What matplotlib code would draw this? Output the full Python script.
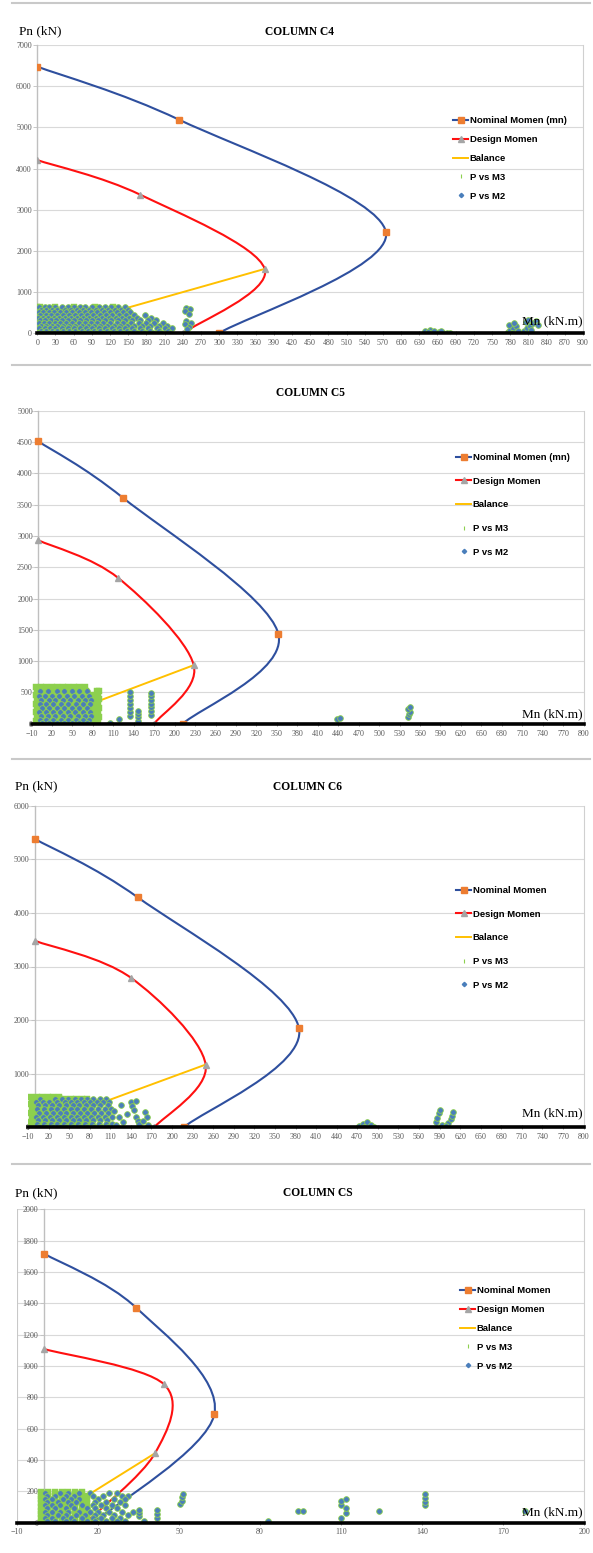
"""Four P-M interaction charts (columns C4, C5, C6, CS) stacked in one tall image."""
import numpy as np
import matplotlib
matplotlib.use("Agg")
import matplotlib.pyplot as plt
from matplotlib.path import Path
from matplotlib.patches import PathPatch
from matplotlib.lines import Line2D

W, H = 593, 1553

# ---------------- data ----------------
# COLUMN C4
c4_nom_m = [0, 234, 575, 299]
c4_nom_p = [6475, 5185, 2455, 0]
c4_des_m = [0, 169, 375, 240]
c4_des_p = [4205, 3370, 1563, 0]
c4_bal_m = [0, 375]
c4_bal_p = [0, 1563]
c4_m3_rows = [
    (630, [0, 4, 30, 60, 95, 125]),
    (540, [0, 2]),
    (430, [0, 2]),
    (320, [0, 2]),
    (210, [0, 2, 150]),
    (100, [0, 2, 140]),
    (15, [0, 3, 60, 120, 180]),
]
c4_m2_rows = [
    (635, [3, 12, 20, 29, 41, 50, 61, 70, 79, 90, 101, 112, 122, 133, 144]),
    (575, [6, 15, 24, 33, 45, 55, 66, 75, 85, 96, 106, 117, 128, 138, 150]),
    (510, [2, 10, 19, 28, 38, 48, 58, 68, 78, 88, 99, 110, 120, 131, 142, 153]),
    (445, [5, 14, 23, 32, 42, 52, 62, 72, 82, 92, 103, 113, 124, 135, 146, 160, 178]),
    (380, [1, 9, 18, 27, 36, 46, 56, 66, 76, 86, 96, 107, 118, 129, 140, 151, 165, 188]),
    (315, [4, 13, 22, 31, 40, 50, 60, 70, 80, 90, 100, 111, 122, 133, 144, 156, 170, 182, 196]),
    (250, [2, 11, 20, 29, 38, 48, 58, 68, 78, 88, 98, 109, 120, 131, 142, 154, 167, 179, 193, 208]),
    (185, [6, 15, 24, 33, 43, 53, 63, 73, 83, 93, 104, 115, 126, 137, 148, 160, 172, 186, 200, 214]),
    (120, [3, 12, 21, 30, 40, 50, 60, 70, 80, 90, 101, 112, 123, 134, 145, 157, 169, 183, 197, 210, 222]),
    (60, [6, 15, 24, 33, 43, 53, 63, 73, 83, 93, 104, 115, 126, 137, 148, 160, 172, 186, 200, 215]),
    (12, [1, 10, 19, 28, 37, 47, 57, 67, 77, 87, 97, 108, 119, 130, 141, 152, 164, 176, 190, 204, 219]),
]
c4_m2_extra_m = [245, 252, 243, 250, 246, 253, 244, 250, 247, 640, 648, 655, 645, 662, 668, 675,
                 680, 665, 776, 780, 785, 790, 778, 786, 792, 783, 802, 808, 812, 818, 822, 806,
                 815, 810, 825]
c4_m2_extra_p = [620, 590, 540, 480, 300, 260, 220, 150, 100, 60, 70, 55, 40, 40, 20, 10,
                 5, 55, 30, 80, 130, 180, 210, 240, 60, 10, 60, 120, 180, 240, 300, 270,
                 90, 330, 200]

# COLUMN C5
c5_nom_m = [0, 124, 352, 212]
c5_nom_p = [4510, 3610, 1440, 0]
c5_des_m = [0, 117, 228, 170]
c5_des_p = [2930, 2330, 935, 0]
c5_bal_m = [0, 228]
c5_bal_p = [0, 935]
c5_m3_rows = [
    (585, [-3, 4, 12, 20, 28, 36, 44, 52, 60, 68]),
    (530, [-2, 6, 14, 22, 30, 38, 46, 54, 62, 70, 86, 89]),
    (460, [-3, 5, 13, 21, 29, 37, 45, 53, 61, 69, 76, 85, 88]),
    (390, [-2, 6, 14, 22, 30, 38, 46, 54, 62, 70, 77, 86, 89]),
    (320, [-3, 5, 13, 21, 29, 37, 45, 53, 61, 69, 76, 85, 88]),
    (250, [-2, 6, 14, 22, 30, 38, 46, 54, 62, 70, 77, 86, 89]),
    (180, [-3, 5, 13, 21, 29, 37, 45, 53, 61, 69, 76, 85, 88]),
    (110, [-2, 6, 14, 22, 30, 38, 46, 54, 62, 70, 77, 86, 89]),
    (40, [-3, 5, 13, 21, 29, 37, 45, 53, 61, 69, 76, 85, 88]),
]
c5_m2_rows = [
    (515, [3, 14, 27, 38, 49, 60, 71]),
    (450, [1, 10, 20, 31, 42, 53, 64, 75]),
    (385, [4, 15, 25, 36, 47, 58, 69, 78]),
    (320, [2, 12, 22, 33, 44, 55, 66, 76]),
    (255, [5, 16, 27, 38, 49, 60, 71]),
    (190, [1, 11, 21, 32, 43, 54, 65, 76]),
    (125, [4, 14, 25, 36, 47, 58, 69, 78]),
    (60, [2, 12, 22, 33, 44, 55, 66, 75]),
    (10, [5, 16, 27, 38, 49, 60, 71]),
]
c5_m2_extra_m = [105, 119, 135, 135, 135, 135, 135, 135, 135, 146, 146, 146, 146,
                 165, 165, 165, 165, 165, 165, 165, 438, 442, 542, 544, 546, 543, 545]
c5_m2_extra_p = [10, 79, 130, 190, 250, 320, 380, 440, 500, 50, 100, 150, 210,
                 140, 200, 260, 320, 380, 440, 490, 80, 90, 110, 150, 190, 230, 265]

# COLUMN C6
c6_nom_m = [0, 150, 385, 217]
c6_nom_p = [5380, 4290, 1850, 0]
c6_des_m = [0, 140, 249, 174]
c6_des_p = [3480, 2790, 1170, 0]
c6_bal_m = [0, 249]
c6_bal_p = [0, 1170]
c6_m3_rows = [
    (570, [-5, 3, 11, 19, 27, 35]),
    (525, [-4, 4, 12, 20, 28, 36, 44, 52, 60, 68, 76]),
    (440, [-5, 3, 11, 19, 27, 35, 43, 51, 59, 67, 75, 82]),
    (355, [-4, 4, 12, 20, 28, 36, 44, 52, 60, 68, 76, 84]),
    (270, [-5, 3, 11, 19, 27, 35, 43, 51, 59, 67, 75, 82]),
    (185, [-4, 4, 12, 20, 28, 36, 44, 52, 60, 68, 76, 84]),
    (100, [-5, 3, 11, 19, 27, 35, 43, 51, 59, 67, 75, 82]),
    (15, [-4, 4, 12, 20, 28, 36, 44, 52, 60, 68, 76, 84]),
]
c6_m2_rows = [
    (530, [8, 30, 40, 49, 58, 67, 76, 85, 95, 104]),
    (480, [2, 12, 21, 33, 44, 53, 62, 71, 80, 90, 99, 108]),
    (410, [5, 15, 25, 35, 45, 55, 65, 75, 85, 95, 106]),
    (340, [3, 13, 23, 32, 42, 52, 62, 72, 82, 92, 102, 111]),
    (270, [6, 16, 26, 36, 46, 56, 66, 76, 86, 96, 106]),
    (200, [2, 12, 22, 32, 42, 52, 62, 72, 82, 92, 102, 112]),
    (130, [5, 15, 25, 35, 45, 55, 65, 75, 85, 95, 105]),
    (60, [3, 13, 23, 33, 43, 53, 63, 73, 83, 93, 103, 112]),
    (10, [6, 16, 26, 36, 46, 56, 66, 76, 86, 96, 106]),
]
c6_m2_extra_m = [115, 122, 128, 135, 140, 142, 145, 148, 150, 152, 147, 160, 163, 158, 165, 125,
                 118, 472, 478, 484, 490, 495, 480, 585, 587, 589, 591, 594, 598, 603, 606,
                 608, 610, 600]
c6_m2_extra_p = [300, 200, 100, 250, 480, 400, 320, 200, 120, 60, 500, 280, 200, 120, 50, 420,
                 40, 20, 60, 100, 40, 10, 5, 100, 180, 260, 320, 40, 5, 80, 150,
                 220, 290, 30]

# COLUMN CS
cs_nom_m = [0, 34.1, 63.1, 18.5]
cs_nom_p = [1717, 1372, 693, 0]
cs_des_m = [0, 44.4, 41.1, 15.5]
cs_des_p = [1108, 883, 442, 0]
cs_bal_m = [0, 41.1]
cs_bal_p = [0, 442]
cs_m3_rows = [
    (196, [-1, 1.5, 4, 6.5, 9, 11.5, 14]),
    (172, [-1, 1.5, 4, 6.5, 9, 11.5, 14, 16]),
    (148, [-1, 1.5, 4, 6.5, 9, 11.5, 14, 16]),
    (124, [-1, 1.5, 4, 6.5, 9, 11.5, 14, 16]),
    (100, [-1, 1.5, 4, 6.5, 9, 11.5, 14, 16]),
    (76, [-1, 1.5, 4, 6.5, 9, 11.5, 14, 16]),
    (52, [-1, 1.5, 4, 6.5, 9, 11.5, 14, 16]),
    (28, [-1, 1.5, 4, 6.5, 9, 11.5, 14, 16]),
    (5, [-1, 1.5, 4, 6.5, 9, 11.5, 14, 16]),
]
cs_m2_rows = [
    (190, [0.5, 6, 9, 13, 17, 24, 27]),
    (170, [1, 4, 8, 11, 18, 22, 29, 31]),
    (150, [0.5, 3, 7, 10, 13, 20, 26, 30]),
    (130, [1, 5, 9, 12, 19, 23, 28]),
    (110, [0.5, 3, 6, 10, 14, 18, 21, 25, 30]),
    (90, [1, 4, 8, 11, 16, 19, 23, 27]),
    (70, [0.5, 3, 6, 9, 13, 17, 20, 24, 29, 33]),
    (50, [1, 5, 8, 12, 15, 19, 22, 26, 31]),
    (30, [0.5, 3, 7, 10, 14, 18, 21, 25, 28]),
    (10, [1, 4, 8, 11, 16, 19, 23, 27, 30, 37]),
]
cs_m2_extra_m = [35, 35, 35, 42, 42, 42, 50.5, 51, 51, 51.5, 83, 94, 96, 110, 110, 110,
                 112, 112, 112, 124, 141, 141, 141, 141, 178]
cs_m2_extra_p = [40, 60, 80, 30, 55, 80, 120, 140, 160, 180, 10, 75, 75, 30, 110, 140,
                 60, 90, 150, 75, 110, 130, 155, 180, 75]

# ---------------- style ----------------
BLUE = "#2E4F9E"
ORANGE = "#ED7D31"
RED = "#FF1010"
GREY_MK = "#A5A5A5"
YELLOW = "#FFC000"
GREEN = "#8DD04E"
DOT = "#4A7EBB"
TXT = "#595959"


def flatten(rows):
    m = [x for p, xs in rows for x in xs]
    p = [p for p, xs in rows for _ in xs]
    return m, p


def smooth(xs, ys):
    """Excel-like smoothed line: cubic Bezier through the points (Catmull-Rom tangents)."""
    pts = np.column_stack([xs, ys]).astype(float)
    n = len(pts)
    verts, codes = [pts[0]], [Path.MOVETO]
    for i in range(n - 1):
        a = pts[i - 1] if i > 0 else pts[i]
        d = pts[i + 2] if i + 2 < n else pts[i + 1]
        verts += [pts[i] + (pts[i + 1] - a) / 6, pts[i + 1] - (d - pts[i]) / 6, pts[i + 1]]
        codes += [Path.CURVE4] * 3
    return Path(verts, codes)


def px_axes(fig, left, right, top, bottom):
    return fig.add_axes([left / W, 1 - bottom / H, (right - left) / W, (bottom - top) / H])


def panel(fig, box, xlim, ylim, xstep, ystep, nom, des, bal, m3_rows, m2_rows, extra,
          leg_xy, leg_labels, leg_space, left_border=False):
    ax = px_axes(fig, *box)
    ax.set_xlim(*xlim)
    ax.set_ylim(*ylim)
    ax.set_xticks(np.arange(xlim[0], xlim[1] + 1, xstep))
    ax.set_yticks(np.arange(0, ylim[1] + 1, ystep))
    for y in np.arange(ystep, ylim[1] + 1, ystep):
        ax.axhline(y, color="#D9D9D9", lw=0.8, zorder=0)

    ax.add_patch(PathPatch(smooth(*nom), fill=False, ec=BLUE, lw=1.5, zorder=2))
    ax.plot(*nom, ls="none", marker="s", ms=4.6, mfc=ORANGE, mec=ORANGE, zorder=3)
    ax.add_patch(PathPatch(smooth(*des), fill=False, ec=RED, lw=1.5, zorder=2))
    ax.plot(*des, ls="none", marker="^", ms=4.2, mfc=GREY_MK, mec=GREY_MK, zorder=3)
    ax.plot(*bal, color=YELLOW, lw=1.4, zorder=2)

    m3m, m3p = flatten(m3_rows)
    ax.plot(m3m, m3p, ls="none", marker="s", ms=4.4, mfc=GREEN, mec=GREEN, mew=0.3, zorder=4)
    m2m, m2p = flatten(m2_rows)
    ax.plot(m2m + extra[0], m2p + extra[1], ls="none", marker="o", ms=4.1,
            mfc=DOT, mec=GREEN, mew=0.6, zorder=5)

    ax.spines["top"].set_visible(False)
    ax.spines["right"].set_color("#D0D0D0")
    ax.spines["right"].set_linewidth(0.8)
    ax.spines["left"].set_position(("data", 0))
    ax.spines["left"].set_color("#BFBFBF")
    ax.spines["left"].set_linewidth(1.0)
    ax.spines["bottom"].set_position(("data", 0))
    ax.spines["bottom"].set_color("black")
    ax.spines["bottom"].set_linewidth(2.6)
    ax.spines["bottom"].set_zorder(6)
    if left_border:
        ax.axvline(xlim[0], color="#C8C8C8", lw=0.8)
    ax.tick_params(axis="x", length=2.5, width=0.6, color="#808080", direction="inout",
                   labelsize=5.8, labelcolor=TXT, pad=3)
    ax.tick_params(axis="y", length=3, width=0.6, color="#BFBFBF", labelsize=5.8,
                   labelcolor=TXT, pad=1)
    for lab in ax.get_xticklabels() + ax.get_yticklabels():
        lab.set_family("Liberation Serif")
    ax.set_facecolor("none")

    handles = [
        Line2D([], [], color=BLUE, lw=1.5, marker="s", ms=4.6, mfc=ORANGE, mec=ORANGE),
        Line2D([], [], color=RED, lw=1.5, marker="^", ms=4.2, mfc=GREY_MK, mec=GREY_MK),
        Line2D([], [], color=YELLOW, lw=1.4),
        Line2D([], [], ls="none", marker="|", ms=3, mec=GREEN, mew=0.8),
        Line2D([], [], ls="none", marker="D", ms=2.2, mfc=DOT, mec=DOT),
    ]
    ax.legend(handles, leg_labels, loc="upper left",
              bbox_to_anchor=(leg_xy[0] / W, 1 - leg_xy[1] / H), bbox_transform=fig.transFigure,
              frameon=False, borderpad=0, borderaxespad=0, handlelength=1.6, handletextpad=0.15,
              labelspacing=leg_space, prop={"family": "Liberation Sans", "weight": "bold",
                                            "size": 6.8})
    return ax


def label(fig, x, y, s, **kw):
    fig.text(x / W, 1 - y / H, s, va="center", **kw)


if __name__ == "__main__":
    fig = plt.figure(figsize=(W / 100, H / 100), dpi=100)

    labels_a = ["Nominal Momen (mn)", "Design Momen", "Balance", "P vs M3", "P vs M2"]
    labels_b = ["Nominal Momen", "Design Momen", "Balance", "P vs M3", "P vs M2"]

    panel(fig, (37.3, 583, 45, 333.3), (0, 900), (0, 7000), 30, 1000,
          (c4_nom_m, c4_nom_p), (c4_des_m, c4_des_p), (c4_bal_m, c4_bal_p),
          c4_m3_rows, c4_m2_rows, (c4_m2_extra_m, c4_m2_extra_p),
          (453, 116), labels_a, 1.05)
    panel(fig, (31.5, 583.6, 410.7, 723.7), (-10, 800), (0, 5000), 30, 500,
          (c5_nom_m, c5_nom_p), (c5_des_m, c5_des_p), (c5_bal_m, c5_bal_p),
          c5_m3_rows, c5_m2_rows, (c5_m2_extra_m, c5_m2_extra_p),
          (456, 453), labels_a, 1.55)
    panel(fig, (28, 583.6, 805.7, 1127.3), (-10, 800), (0, 6000), 30, 1000,
          (c6_nom_m, c6_nom_p), (c6_des_m, c6_des_p), (c6_bal_m, c6_bal_p),
          c6_m3_rows, c6_m2_rows, (c6_m2_extra_m, c6_m2_extra_p),
          (456, 886), labels_b, 1.55)
    panel(fig, (17, 584, 1209.3, 1522.5), (-10, 200), (0, 2000), 30, 200,
          (cs_nom_m, cs_nom_p), (cs_des_m, cs_des_p), (cs_bal_m, cs_bal_p),
          cs_m3_rows, cs_m2_rows, (cs_m2_extra_m, cs_m2_extra_p),
          (460, 1286), labels_b, 1.05, left_border=True)

    serif = "Liberation Serif"
    label(fig, 19, 31.7, "Pn (kN)", family=serif, size=9.5)
    label(fig, 265, 31.7, "COLUMN C4", family=serif, size=8.3, weight="bold")
    label(fig, 276, 393.3, "COLUMN C5", family=serif, size=8.3, weight="bold")
    label(fig, 15, 786.7, "Pn (kN)", family=serif, size=9.5)
    label(fig, 273, 786.7, "COLUMN C6", family=serif, size=8.3, weight="bold")
    label(fig, 15, 1193.3, "Pn (kN)", family=serif, size=9.5)
    label(fig, 282.7, 1193.3, "COLUMN CS", family=serif, size=8.3, weight="bold")
    for yy in (321.7, 714.3, 1113.3, 1512.7):
        label(fig, 583, yy, "Mn (kN.m)", family=serif, size=9.5, ha="right")

    for yy in (3, 365, 758.5, 1164):
        fig.add_artist(Line2D([12 / W, 590 / W], [1 - yy / H] * 2, color="#C9C9C9", lw=1.5))

    fig.savefig("out.png", dpi=100, facecolor="white")
